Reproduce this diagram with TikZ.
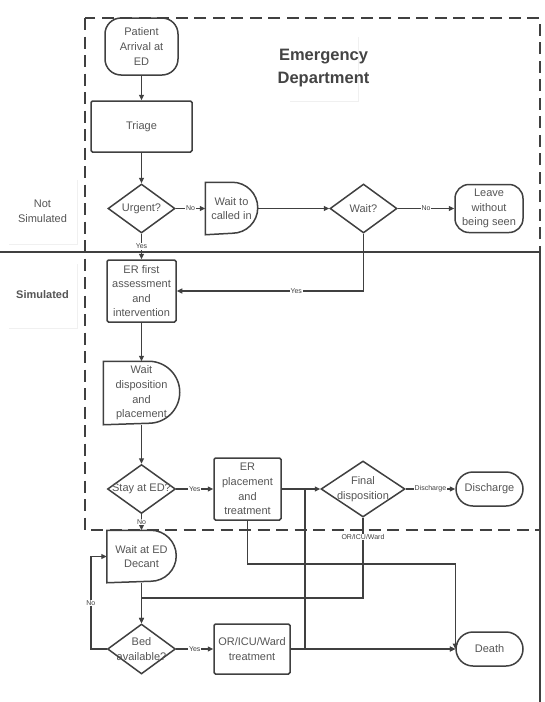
\documentclass[tikz,border=0pt]{standalone}
\usepackage{fontspec}
\setmainfont{Liberation Sans}
\usetikzlibrary{shapes.geometric,arrows.meta,calc,shadows}

\definecolor{linegray}{HTML}{404040}
\definecolor{textgray}{HTML}{555555}
\definecolor{titlegray}{HTML}{444444}

\newcommand{\nodefont}{\fontsize{11}{14.6}\selectfont}
\newcommand{\tagfont}{\fontsize{7}{8}\selectfont}
\newcommand{\titlefont}{\fontsize{16.5}{22.5}\selectfont\bfseries}

% outline of a delay box: flat left side, half circle on the right
\newcommand{\delayoutline}[2]{%
  \draw[draw=linegray, line width=1.5pt] (#1.north west) -- ($(#1.north east)+(-#2,0)$)
    arc[start angle=90, end angle=-90, radius=#2] -- (#1.south west) -- cycle;}

\tikzset{
  base/.style={draw=linegray, line width=1.5pt, text=textgray, font=\nodefont, align=center, inner sep=1.5pt},
  process/.style={base, rectangle, rounded corners=1.5pt},
  terminal/.style={base, rectangle, rounded corners=#1},
  delay/.style={base, draw=none, rectangle},
  decision/.style={base, diamond, inner sep=0pt},
  tag/.style={font=\tagfont, text=linegray, fill=white, inner sep=0.6pt},
  note/.style={fill=white, drop shadow={shadow xshift=0.8pt, shadow yshift=-1.2pt, opacity=0.12},
    minimum width=69pt, minimum height=65pt, text=textgray, font=\nodefont, align=center},
  flow/.style={draw=linegray, line width=1.5pt, -{Triangle[length=5.5pt,width=5pt]}},
  every label/.style={font=\nodefont, text=textgray, align=center},
}

\begin{document}
\begin{tikzpicture}[x=1pt, y=1pt]
  \useasboundingbox (0,0) rectangle (544,-702);

  % regions
  \draw[linegray, line width=1.9pt, dash pattern=on 12pt off 6.5pt] (85,-18) rectangle (540,-530);
  \draw[linegray, line width=1.3pt] (0,-252) -- (540,-252) -- (540,-702);

  \node[note] (notsim) at (42.5,-211.5) {Not\\Simulated};
  \node[note, font=\nodefont\bfseries] (sim) at (42.5,-295) {Simulated};
  \node[note, label={[font=\titlefont, text=titlegray]center:Emergency\\Department}] (edtitle) at (323.5,-68) {};

  % steps
  \node[terminal=16pt, minimum width=73pt, minimum height=57pt] (arrival) at (141.5,-46.5) {Patient\\Arrival at\\ED};
  \node[process, minimum width=101pt, minimum height=51pt] (triage) at (141.5,-126.5) {Triage};
  \node[decision, minimum width=67pt, minimum height=49pt, label=center:Urgent?] (urgent) at (141.5,-208.5) {};
  \node[delay, minimum width=51pt, minimum height=51pt] (waitcall) at (231.5,-208.5) {Wait to\\called in};
  \node[decision, minimum width=67pt, minimum height=49pt, label=center:Wait?] (waitq) at (363.5,-208.5) {};
  \node[terminal=14pt, minimum width=68pt, minimum height=48pt] (leave) at (489,-208.5) {Leave\\without\\being seen};

  \node[process, minimum width=69pt, minimum height=62pt] (erfirst) at (141.5,-291) {ER first\\assessment\\and\\intervention};
  \node[delay, minimum width=75pt, minimum height=62pt] (waitdisp) at (141.5,-393) {Wait\\disposition\\and\\placement};
  \node[decision, minimum width=68pt, minimum height=49pt, label=center:Stay at ED?] (stay) at (141.5,-489) {};
  \node[process, minimum width=67pt, minimum height=62pt] (erplace) at (247.5,-489) {ER\\placement\\and\\treatment};
  \node[decision, minimum width=84pt, minimum height=56pt, label=center:Final\\disposition] (final) at (363,-489) {};
  \node[terminal=17pt, minimum width=67pt, minimum height=34pt] (discharge) at (489.5,-489) {Discharge};

  \node[delay, minimum width=68pt, minimum height=51pt] (decant) at (141.5,-556.5) {Wait at ED\\Decant};
  \node[decision, minimum width=68pt, minimum height=50pt, label=center:Bed\\available?] (bed) at (141.5,-649) {};
  \node[process, minimum width=76pt, minimum height=50pt] (orward) at (252,-649) {OR/ICU/Ward\\treatment};
  \node[terminal=17pt, minimum width=67pt, minimum height=34pt] (death) at (489.5,-649) {Death};

  \delayoutline{waitcall}{25.5}
  \delayoutline{waitdisp}{31}
  \delayoutline{decant}{25.5}

  \coordinate (merge) at (141.5,-598);
  \coordinate (branch) at (305,-489);

  % connectors
  \draw[flow] (arrival) -- (triage);
  \draw[flow] (triage) -- (urgent);
  \draw[flow] (urgent) -- node[tag]{No} (waitcall);
  \draw[flow] (waitcall) -- (waitq);
  \draw[flow] (waitq) -- node[tag]{No} (leave);
  \draw[flow] (urgent) -- node[tag]{Yes} (erfirst);
  \draw[flow] (waitq.south) |- node[tag, pos=0.68]{Yes} (erfirst.east);
  \draw[flow] (erfirst) -- (waitdisp);
  \draw[flow] (waitdisp) -- (stay);
  \draw[flow] (stay) -- node[tag]{Yes} (erplace);
  \draw[flow] (stay) -- node[tag]{No} (decant);
  \draw[flow] (erplace) -- (final);
  \draw[flow] (final) -- node[tag]{Discharge} (discharge);
  \draw[flow] (final.south) |- node[tag, pos=0.12]{OR/ICU/Ward} (merge) -- (bed.north);
  \draw[flow] (erplace.south) -- ++(0,-43) -| (death.west);
  \draw[flow] (erplace.east) -- (branch) |- (death.west);
  \draw[flow] (decant) -- (bed);
  \draw[flow] (bed) -- node[tag]{Yes} (orward);
  \draw[flow] (orward) -- (death);
  \draw[flow] (bed.west) -- ++(-16,0) |- node[tag, pos=0.25]{No} (decant.west);
\end{tikzpicture}
\end{document}
